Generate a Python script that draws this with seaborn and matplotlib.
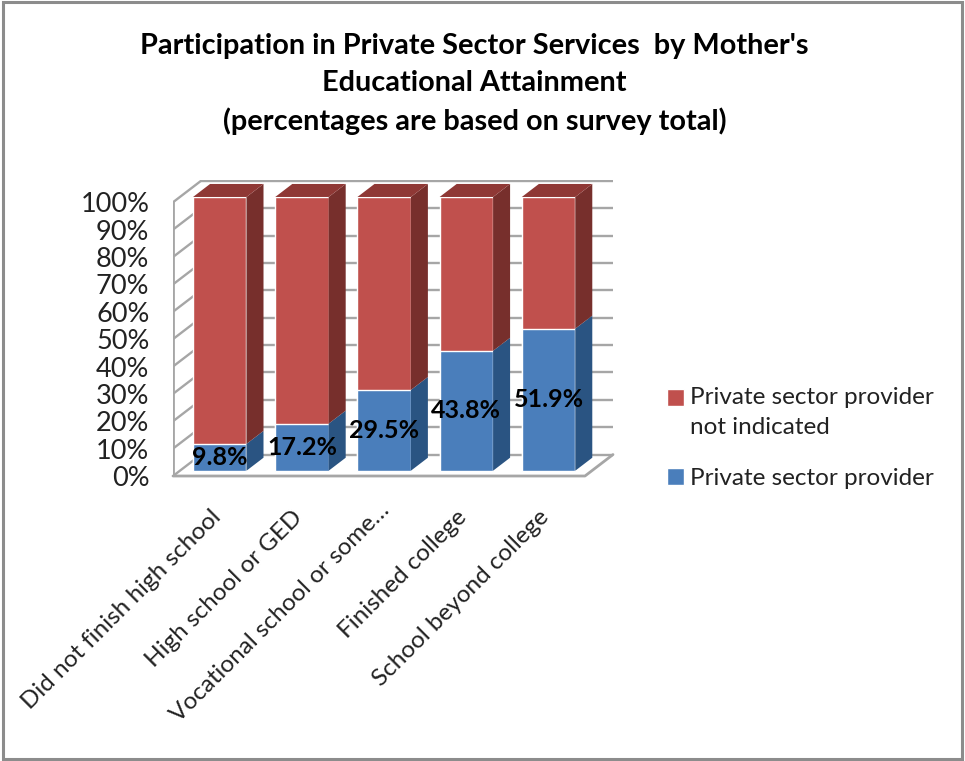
import pandas as pd
import seaborn as sns
import matplotlib.pyplot as plt
from matplotlib.patches import Polygon, Rectangle
from matplotlib.transforms import ScaledTranslation

categories = ["Did not finish high school", "High school or GED", "Vocational school or some…", "Finished college", "School beyond college"]
provider = [9.8, 17.2, 29.5, 43.8, 51.9]
total = [100, 100, 100, 100, 100]
y_ticks = [0, 10, 20, 30, 40, 50, 60, 70, 80, 90, 100]

sns.set_style("white")
plt.rcParams["font.family"] = ["Lato", "DejaVu Sans"]

W, H = 965, 761
fig = plt.figure(figsize=(W / 100, H / 100), dpi=100)
ax = fig.add_axes([173 / W, 1 - 476 / H, 440 / W, 296 / H])

df = pd.DataFrame({"cat": categories, "provider": provider, "total": total})
sns.barplot(data=df, x="cat", y="total", color="#c0504d", saturation=1, width=0.65,
            label="Private sector provider\nnot indicated", ax=ax, zorder=3)
sns.barplot(data=df, x="cat", y="provider", color="#4a7ebb", saturation=1, width=0.65,
            label="Private sector provider", ax=ax, zorder=3)

# fake 3d depth, bar depth and wall offsets in data units
dx, dy = 0.207, 4.75
wall_l, wall_r, wall_dx = -0.569, 4.443, 0.341
floor, back0 = -1.93, 5.9

ax.set_xlim(wall_l, wall_r + wall_dx)
ax.set_ylim(floor, 106.2)

grid = "#a6a6a6"
for t in y_ticks:
    ax.plot([wall_l, wall_l + wall_dx], [t + floor, t + back0], color=grid, lw=1.7, zorder=1)
    ax.plot([wall_l + wall_dx, wall_r + wall_dx], [t + back0, t + back0], color=grid, lw=1.7, zorder=1)
ax.plot([wall_l, wall_l], [floor, 100 + floor], color=grid, lw=2, zorder=1)
ax.plot([wall_l, wall_r, wall_r + wall_dx], [floor, floor, back0], color=grid, lw=2, zorder=1, clip_on=False)

for i in range(len(categories)):
    left = ax.containers[0][i].get_x()
    right = left + ax.containers[0][i].get_width()
    v = provider[i]
    ax.add_patch(Polygon([(right, 0), (right + dx, dy), (right + dx, v + dy), (right, v)], color="#2a5482", lw=0, zorder=3))
    ax.add_patch(Polygon([(right, v), (right + dx, v + dy), (right + dx, 100 + dy), (right, 100)], color="#772f2c", lw=0, zorder=3))
    ax.add_patch(Polygon([(left, 100), (left + dx, 100 + dy), (right + dx, 100 + dy), (right, 100)], color="#8f3835", lw=0, zorder=3))

ax.bar_label(ax.containers[1], fmt="%.1f%%", label_type="center", fontsize=18, fontweight="bold", color="black", zorder=5)

ax.set_yticks([t + floor for t in y_ticks], [f"{t}%" for t in y_ticks])
ax.tick_params(axis="y", length=0, pad=17, labelsize=19.5, labelcolor="#222222")
ax.set_xticks(range(len(categories)), categories)
ax.tick_params(axis="x", length=0, pad=22, labelsize=17.5, labelcolor="#222222")
shift = ScaledTranslation(-10 / 100, 0, fig.dpi_scale_trans)
shift_third = ScaledTranslation(-6 / 100, 7 / 100, fig.dpi_scale_trans)
for i, lab in enumerate(ax.get_xticklabels()):
    lab.set_rotation(45)
    lab.set_ha("right")
    lab.set_rotation_mode("anchor")
    lab.set_transform(lab.get_transform() + (shift_third if i == 2 else shift))
ax.set_xlabel("")
ax.set_ylabel("")
sns.despine(ax=ax, left=True, bottom=True)
ax.patch.set_alpha(0)

handles, labels = ax.get_legend_handles_labels()
leg = ax.legend(handles, labels, loc="center left", bbox_to_anchor=(645 / W, 1 - 438 / H),
                bbox_transform=fig.transFigure, frameon=False, fontsize=17.5, labelcolor="#222222",
                handlelength=0.7, handleheight=0.7, handletextpad=0.27, labelspacing=1.25)
for txt in leg.get_texts():
    txt.set_linespacing(1.5)
# swatch sits on the first line of the two line label
first = leg.get_patches()[0]
first.set_y(first.get_y() + 11)

fig.text(474.5 / W, 1 - 84 / H, "Participation in Private Sector Services  by Mother's\nEducational Attainment\n(percentages are based on survey total)",
         ha="center", va="center", fontsize=20.8, fontweight="bold", color="black", linespacing=1.5)

fig.add_artist(Rectangle((3 / W, 2 / H), (W - 6) / W, (H - 4) / H, transform=fig.transFigure,
                         fill=False, edgecolor="#8c8c8c", lw=2.2))

fig.savefig("out.png", dpi=100)
